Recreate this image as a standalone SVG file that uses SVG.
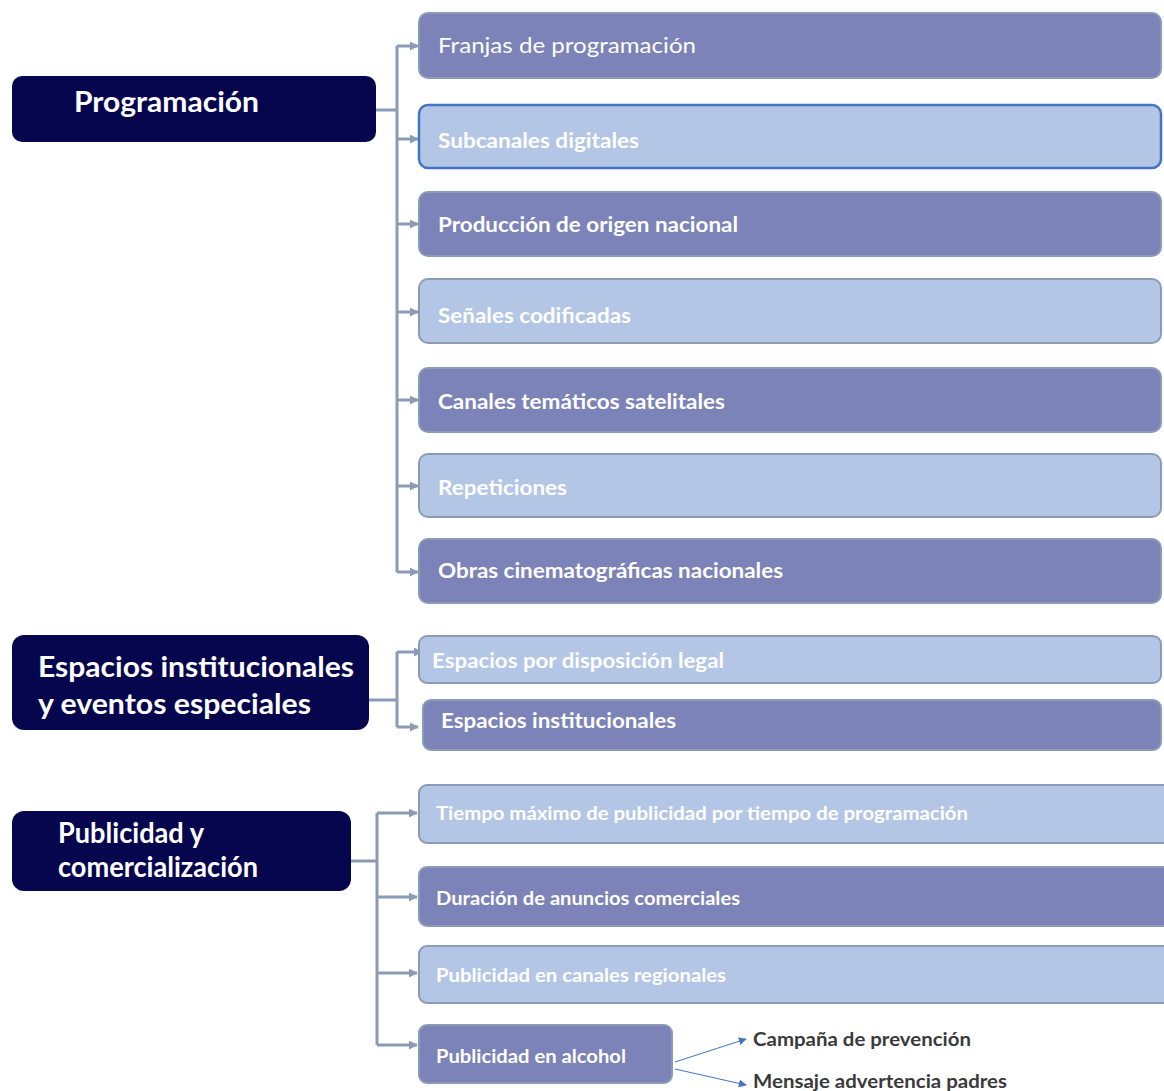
<svg xmlns="http://www.w3.org/2000/svg" width="1164" height="1091" viewBox="0 0 1164 1091">
<defs>
<style>
.hdr{fill:#06064F;}
.hdrt{font-family:Lato,"Liberation Sans",sans-serif;font-weight:bold;font-size:28px;fill:#FFFFFF;}
.dk{fill:#7B83B8;stroke:#8C9BB5;stroke-width:2;}
.lt{fill:#B4C6E6;stroke:#8C9BB5;stroke-width:2;}
.sel{fill:#B4C6E6;stroke:#4472C4;stroke-width:2.5;}
.bt{font-family:Lato,"Liberation Sans",sans-serif;font-weight:bold;font-size:20px;fill:#FFFFFF;}
.bn{font-family:Lato,"Liberation Sans",sans-serif;font-weight:normal;font-size:21px;fill:#FFFFFF;}
.bs{font-family:Lato,"Liberation Sans",sans-serif;font-weight:bold;font-size:18px;fill:#FFFFFF;}
.side{font-family:Lato,"Liberation Sans",sans-serif;font-weight:bold;font-size:18px;fill:#3A3A3A;}
.con{fill:none;stroke:#8C9BB5;stroke-width:3;}
.con2{fill:none;stroke:#4472C4;stroke-width:1;}
</style>
<marker id="ah" viewBox="0 0 10 10" refX="9" refY="5" markerWidth="3" markerHeight="3" orient="auto" markerUnits="strokeWidth">
<path d="M0,0 L10,5 L0,10 z" fill="#8C9BB5"/>
</marker>
<marker id="ahb" viewBox="0 0 10 10" refX="9" refY="5" markerWidth="8" markerHeight="8" orient="auto" markerUnits="strokeWidth">
<path d="M0,0 L10,5 L0,10 z" fill="#4472C4"/>
</marker>
</defs>
<rect width="1164" height="1091" fill="#FFFFFF"/>

<g id="connectors">
<path class="con" d="M376,110 H397"/>
<path class="con" d="M397,46 V572"/>
<path class="con" marker-end="url(#ah)" d="M397,46 H418"/>
<path class="con" marker-end="url(#ah)" d="M397,139 H418"/>
<path class="con" marker-end="url(#ah)" d="M397,224 H418"/>
<path class="con" marker-end="url(#ah)" d="M397,312 H418"/>
<path class="con" marker-end="url(#ah)" d="M397,400 H418"/>
<path class="con" marker-end="url(#ah)" d="M397,486 H418"/>
<path class="con" marker-end="url(#ah)" d="M397,572 H418"/>

<path class="con" d="M369,700 H397"/>
<path class="con" d="M397,652 V727"/>
<path class="con" marker-end="url(#ah)" d="M397,652 H422"/>
<path class="con" marker-end="url(#ah)" d="M397,727 H418"/>

<path class="con" d="M343,861 H377"/>
<path class="con" d="M377,813 V1045"/>
<path class="con" marker-end="url(#ah)" d="M377,813 H417"/>
<path class="con" marker-end="url(#ah)" d="M377,897 H417"/>
<path class="con" marker-end="url(#ah)" d="M377,973 H417"/>
<path class="con" marker-end="url(#ah)" d="M377,1045 H417"/>

<path class="con2" marker-end="url(#ahb)" d="M675,1062 L746,1039"/>
<path class="con2" marker-end="url(#ahb)" d="M675,1069 L746,1085"/>
</g>

<g id="n-programacion">
<rect class="hdr" x="12" y="76" width="364" height="66" rx="10"/>
<text class="hdrt" x="74" y="112" textLength="185" lengthAdjust="spacingAndGlyphs">Programación</text>
</g>

<g id="n-franjas">
<rect class="dk" x="419" y="13" width="742" height="65" rx="9"/>
<text class="bn" x="438" y="53" textLength="258" lengthAdjust="spacingAndGlyphs">Franjas de programación</text>
</g>
<g id="n-subcanales">
<rect class="sel" x="419" y="105" width="742" height="63" rx="9"/>
<text class="bt" x="438" y="148" textLength="201" lengthAdjust="spacingAndGlyphs">Subcanales digitales</text>
</g>
<g id="n-produccion">
<rect class="dk" x="419" y="192" width="742" height="64" rx="9"/>
<text class="bt" x="438" y="232" textLength="300" lengthAdjust="spacingAndGlyphs">Producción de origen nacional</text>
</g>
<g id="n-senales">
<rect class="lt" x="419" y="279" width="742" height="64" rx="9"/>
<text class="bt" x="438" y="323" textLength="193" lengthAdjust="spacingAndGlyphs">Señales codificadas</text>
</g>
<g id="n-canales">
<rect class="dk" x="419" y="368" width="742" height="64" rx="9"/>
<text class="bt" x="438" y="409" textLength="287" lengthAdjust="spacingAndGlyphs">Canales temáticos satelitales</text>
</g>
<g id="n-repeticiones">
<rect class="lt" x="419" y="454" width="742" height="63" rx="9"/>
<text class="bt" x="438" y="495" textLength="129" lengthAdjust="spacingAndGlyphs">Repeticiones</text>
</g>
<g id="n-obras">
<rect class="dk" x="419" y="539" width="742" height="64" rx="9"/>
<text class="bt" x="438" y="578" textLength="345" lengthAdjust="spacingAndGlyphs">Obras cinematográficas nacionales</text>
</g>

<g id="n-espacios">
<rect class="hdr" x="12" y="635" width="357" height="95" rx="12"/>
<text class="hdrt" x="38" y="677" textLength="316" lengthAdjust="spacingAndGlyphs">Espacios institucionales</text>
<text class="hdrt" x="38" y="714" textLength="273" lengthAdjust="spacingAndGlyphs">y eventos especiales</text>
</g>
<g id="n-legal">
<rect class="lt" x="419" y="636" width="742" height="47" rx="8"/>
<text class="bt" x="432" y="668" textLength="292" lengthAdjust="spacingAndGlyphs">Espacios por disposición legal</text>
</g>
<g id="n-institucionales">
<rect class="dk" x="423" y="700" width="738" height="50" rx="8"/>
<text class="bt" x="441" y="728" textLength="235" lengthAdjust="spacingAndGlyphs">Espacios institucionales</text>
</g>

<g id="n-publicidad">
<rect class="hdr" x="12" y="811" width="339" height="80" rx="12"/>
<text class="hdrt" x="58" y="843" textLength="146" lengthAdjust="spacingAndGlyphs">Publicidad y</text>
<text class="hdrt" x="58" y="877" textLength="200" lengthAdjust="spacingAndGlyphs">comercialización</text>
</g>
<g id="n-tiempo">
<rect class="lt" x="419" y="785" width="760" height="58" rx="8"/>
<text class="bs" x="436" y="820" textLength="532" lengthAdjust="spacingAndGlyphs">Tiempo máximo de publicidad por tiempo de programación</text>
</g>
<g id="n-duracion">
<rect class="dk" x="419" y="867" width="760" height="59" rx="8"/>
<text class="bs" x="436" y="905" textLength="304" lengthAdjust="spacingAndGlyphs">Duración de anuncios comerciales</text>
</g>
<g id="n-regionales">
<rect class="lt" x="419" y="946" width="760" height="57" rx="8"/>
<text class="bs" x="436" y="982" textLength="290" lengthAdjust="spacingAndGlyphs">Publicidad en canales regionales</text>
</g>
<g id="n-alcohol">
<rect class="dk" x="419" y="1025" width="253" height="58" rx="8"/>
<text class="bs" x="436" y="1063" textLength="190" lengthAdjust="spacingAndGlyphs">Publicidad en alcohol</text>
</g>
<g id="n-campana">
<text class="side" x="753" y="1046" textLength="218" lengthAdjust="spacingAndGlyphs">Campaña de prevención</text>
</g>
<g id="n-mensaje">
<text class="side" x="753" y="1088" textLength="254" lengthAdjust="spacingAndGlyphs">Mensaje advertencia padres</text>
</g>
</svg>
